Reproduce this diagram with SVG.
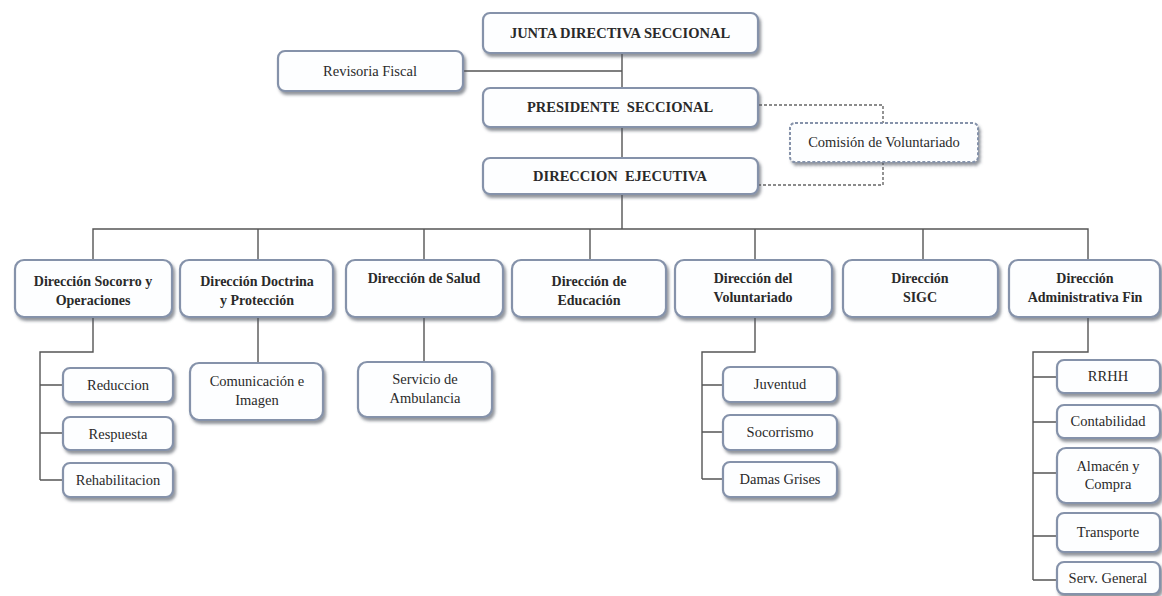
<svg xmlns="http://www.w3.org/2000/svg" width="1162" height="596" viewBox="0 0 1162 596" font-family="Liberation Serif, Times New Roman, DejaVu Serif, serif">
<defs>
<filter id="sh" x="-10%" y="-20%" width="125%" height="150%">
<feDropShadow dx="2" dy="3" stdDeviation="1.5" flood-color="#4a4f5a" flood-opacity="0.6"/>
</filter>
<style>
.box{fill:#fdfeff;stroke:#8592aa;stroke-width:2.2;filter:url(#sh)}
.dbox{fill:#fdfeff;stroke:#8592aa;stroke-width:2;stroke-dasharray:3 2;filter:url(#sh)}
text{font-family:'Liberation Serif','Times New Roman','DejaVu Serif',serif}
.t{font-size:14.5px;fill:#2a2a2a;text-anchor:middle}
.b{font-weight:bold;font-size:14px}
.h{font-weight:bold;font-size:14.5px}
.ln{fill:none;stroke:#555;stroke-width:1.4}
.dl{fill:none;stroke:#666;stroke-width:1.4;stroke-dasharray:3 2}
</style>
</defs>
<rect width="1162" height="596" fill="#fff"/>
<g id="connectors">
<path class="ln" d="M622 53V88M622 127V158M622 194V229M463 71H622"/>
<path class="dl" d="M759 105H883V123M883 162V185H759"/>
<path class="ln" d="M93 260V229H1088V260M258 229V260M424 229V260M590 229V260M755 229V260M923 229V260"/>
<path class="ln" d="M93 317V352H40V480M40 385H63M40 433H63M40 480H63"/>
<path class="ln" d="M258 317V363M424 317V362"/>
<path class="ln" d="M755 317V352H702V479M702 385H723M702 432H723M702 479H723"/>
<path class="ln" d="M1088 317V352H1033V580M1033 377H1057M1033 422H1057M1033 473H1057M1033 536H1057M1033 580H1057"/>
</g>
<g id="junta"><rect class="box" x="483" y="13" width="275" height="40" rx="7"/><text class="t h" x="620" y="38">JUNTA DIRECTIVA SECCIONAL</text></g>
<g id="revisoria"><rect class="box" x="278" y="51" width="185" height="40" rx="7"/><text class="t" x="370" y="76">Revisoria Fiscal</text></g>
<g id="presidente"><rect class="box" x="483" y="88" width="275" height="39" rx="7"/><text class="t h" x="620" y="112" xml:space="preserve">PRESIDENTE  SECCIONAL</text></g>
<g id="ejecutiva"><rect class="box" x="483" y="158" width="275" height="36" rx="7"/><text class="t h" x="620" y="181" xml:space="preserve">DIRECCION  EJECUTIVA</text></g>
<g id="comision"><rect class="dbox" x="790" y="123" width="188" height="39" rx="5"/><text class="t" x="884" y="147">Comisión de Voluntariado</text></g>
<g id="socorro"><rect class="box" x="15" y="260" width="157" height="57" rx="9"/><text class="t b" x="93" y="286">Dirección Socorro y</text><text class="t b" x="93" y="305">Operaciones</text></g>
<g id="doctrina"><rect class="box" x="180" y="260" width="153" height="57" rx="9"/><text class="t b" x="257" y="286">Dirección Doctrina</text><text class="t b" x="257" y="305">y Protección</text></g>
<g id="salud"><rect class="box" x="346" y="260" width="157" height="57" rx="9"/><text class="t b" x="424" y="283">Dirección de Salud</text></g>
<g id="educacion"><rect class="box" x="512" y="260" width="154" height="57" rx="9"/><text class="t b" x="589" y="286">Dirección de</text><text class="t b" x="589" y="305">Educación</text></g>
<g id="voluntariado"><rect class="box" x="675" y="260" width="157" height="57" rx="9"/><text class="t b" x="753" y="283">Dirección del</text><text class="t b" x="753" y="302">Voluntariado</text></g>
<g id="sigc"><rect class="box" x="843" y="260" width="155" height="57" rx="9"/><text class="t b" x="920" y="283">Dirección</text><text class="t b" x="920" y="302">SIGC</text></g>
<g id="administrativa"><rect class="box" x="1009" y="260" width="151" height="57" rx="9"/><text class="t b" x="1085" y="283">Dirección</text><text class="t b" x="1085" y="302">Administrativa Fin</text></g>
<g id="reduccion"><rect class="box" x="63" y="368" width="110" height="34" rx="7"/><text class="t" x="118" y="390">Reduccion</text></g>
<g id="respuesta"><rect class="box" x="63" y="417" width="110" height="33" rx="7"/><text class="t" x="118" y="439">Respuesta</text></g>
<g id="rehabilitacion"><rect class="box" x="63" y="463" width="110" height="34" rx="7"/><text class="t" x="118" y="485">Rehabilitacion</text></g>
<g id="comunicacion"><rect class="box" x="190" y="363" width="133" height="57" rx="9"/><text class="t" x="257" y="386">Comunicación e</text><text class="t" x="257" y="405">Imagen</text></g>
<g id="ambulancia"><rect class="box" x="358" y="362" width="134" height="55" rx="9"/><text class="t" x="425" y="384">Servicio de</text><text class="t" x="425" y="403">Ambulancia</text></g>
<g id="juventud"><rect class="box" x="723" y="367" width="114" height="35" rx="7"/><text class="t" x="780" y="389">Juventud</text></g>
<g id="socorrismo"><rect class="box" x="723" y="415" width="114" height="35" rx="7"/><text class="t" x="780" y="437">Socorrismo</text></g>
<g id="damas"><rect class="box" x="723" y="462" width="114" height="35" rx="7"/><text class="t" x="780" y="484">Damas Grises</text></g>
<g id="rrhh"><rect class="box" x="1057" y="360" width="103" height="33" rx="7"/><text class="t" x="1108" y="381">RRHH</text></g>
<g id="contabilidad"><rect class="box" x="1057" y="405" width="103" height="33" rx="7"/><text class="t" x="1108" y="426">Contabilidad</text></g>
<g id="almacen"><rect class="box" x="1057" y="448" width="103" height="55" rx="9"/><text class="t" x="1108" y="471">Almacén y</text><text class="t" x="1108" y="489">Compra</text></g>
<g id="transporte"><rect class="box" x="1057" y="513" width="103" height="39" rx="7"/><text class="t" x="1108" y="537">Transporte</text></g>
<g id="servgeneral"><rect class="box" x="1057" y="562" width="103" height="32" rx="7"/><text class="t" x="1108" y="583">Serv. General</text></g>
</svg>
